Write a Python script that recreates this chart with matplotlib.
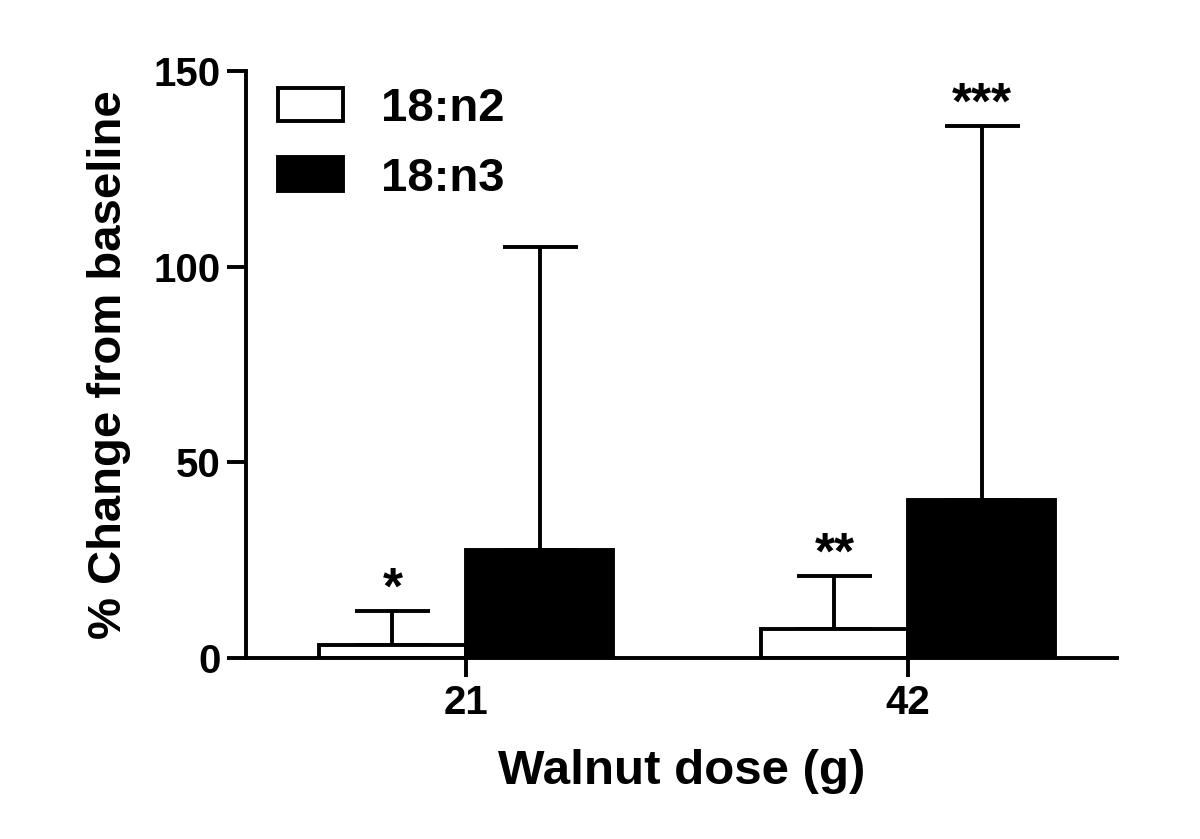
import numpy as np
import matplotlib
matplotlib.use("Agg")
import matplotlib.pyplot as plt

# data
doses = ["21", "42"]
n2_mean = [3.4, 7.4]
n2_err = [8.6, 13.6]
n3_mean = [27.6, 40.4]
n3_err = [77.4, 95.6]
n2_stars = ["*", "**"]
n3_stars = ["", "***"]

plt.rcParams["font.family"] = ["Liberation Sans", "DejaVu Sans"]
plt.rcParams["font.weight"] = "bold"

fig = plt.figure(figsize=(12, 8.39), dpi=100)
ax = fig.add_axes([246 / 1200, 1 - 658 / 839, (1117 - 246) / 1200, (658 - 71) / 839])

x = np.arange(len(doses))
w = 0.333
lw = 2.8

ax.bar(x - w / 2, n2_mean, w, color="white", edgecolor="black", linewidth=lw,
       label="18:n2", zorder=2)
ax.bar(x + w / 2, n3_mean, w, color="black", edgecolor="black", linewidth=lw,
       label="18:n3", zorder=2)

for xs, m, e in [(x - w / 2, n2_mean, n2_err), (x + w / 2, n3_mean, n3_err)]:
    ax.errorbar(xs, np.array(m), yerr=[np.zeros(len(m)), e], fmt="none",
                ecolor="black", elinewidth=lw, capsize=27, capthick=lw, zorder=1)

# significance stars above the error caps
for xs, m, e, s in [(x - w / 2, n2_mean, n2_err, n2_stars),
                    (x + w / 2, n3_mean, n3_err, n3_stars)]:
    for xi, mi, ei, si in zip(xs, m, e, s):
        if si:
            ax.annotate(si, (xi, mi + ei), xytext=(0, 5), textcoords="offset points",
                        ha="center", va="baseline", fontsize=37, fontweight="bold")

ax.set_xlim(-0.498, 1.473)
ax.set_ylim(0, 150)
ax.set_yticks([0, 50, 100, 150])
ax.set_xticks(x)
ax.set_xticklabels(doses)

for s in ["top", "right"]:
    ax.spines[s].set_visible(False)
for s in ["left", "bottom"]:
    ax.spines[s].set_linewidth(lw)

ax.tick_params(axis="both", width=lw, length=14, labelsize=29, direction="out")
ax.tick_params(axis="y", pad=4)
ax.tick_params(axis="x", pad=5)

ax.set_xlabel("Walnut dose (g)", fontsize=35.5, fontweight="bold", labelpad=19)
ax.set_ylabel("% Change from baseline", fontsize=34, fontweight="bold")
ax.yaxis.set_label_coords(-0.132, 0.5)

ax.legend(loc="upper left", bbox_to_anchor=(0.037, 0.973), frameon=False,
          fontsize=34, handlelength=1.38, handleheight=0.72, handletextpad=0.8,
          labelspacing=0.55, borderaxespad=0, borderpad=0)

fig.savefig("out.png", dpi=100, facecolor="white")
